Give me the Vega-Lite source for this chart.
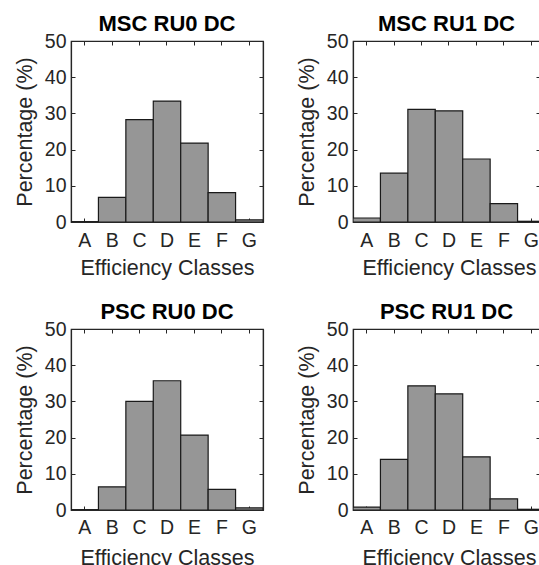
{
  "$schema": "https://vega.github.io/schema/vega-lite/v6.json",
  "padding": {"left": 13, "top": 12, "right": 0, "bottom": 0},
  "background": "white",
  "data": {"values": [
    {"panel": "MSC RU0 DC", "cls": "A", "pct": 0.1},
    {"panel": "MSC RU0 DC", "cls": "B", "pct": 6.8},
    {"panel": "MSC RU0 DC", "cls": "C", "pct": 28.3},
    {"panel": "MSC RU0 DC", "cls": "D", "pct": 33.4},
    {"panel": "MSC RU0 DC", "cls": "E", "pct": 21.8},
    {"panel": "MSC RU0 DC", "cls": "F", "pct": 8.1},
    {"panel": "MSC RU0 DC", "cls": "G", "pct": 0.6},
    {"panel": "MSC RU1 DC", "cls": "A", "pct": 1.1},
    {"panel": "MSC RU1 DC", "cls": "B", "pct": 13.5},
    {"panel": "MSC RU1 DC", "cls": "C", "pct": 31.1},
    {"panel": "MSC RU1 DC", "cls": "D", "pct": 30.7},
    {"panel": "MSC RU1 DC", "cls": "E", "pct": 17.4},
    {"panel": "MSC RU1 DC", "cls": "F", "pct": 5.1},
    {"panel": "MSC RU1 DC", "cls": "G", "pct": 0.2},
    {"panel": "PSC RU0 DC", "cls": "A", "pct": 0.1},
    {"panel": "PSC RU0 DC", "cls": "B", "pct": 6.4},
    {"panel": "PSC RU0 DC", "cls": "C", "pct": 30.0},
    {"panel": "PSC RU0 DC", "cls": "D", "pct": 35.7},
    {"panel": "PSC RU0 DC", "cls": "E", "pct": 20.7},
    {"panel": "PSC RU0 DC", "cls": "F", "pct": 5.7},
    {"panel": "PSC RU0 DC", "cls": "G", "pct": 0.6},
    {"panel": "PSC RU1 DC", "cls": "A", "pct": 0.8},
    {"panel": "PSC RU1 DC", "cls": "B", "pct": 14.0},
    {"panel": "PSC RU1 DC", "cls": "C", "pct": 34.3},
    {"panel": "PSC RU1 DC", "cls": "D", "pct": 32.1},
    {"panel": "PSC RU1 DC", "cls": "E", "pct": 14.7},
    {"panel": "PSC RU1 DC", "cls": "F", "pct": 3.1},
    {"panel": "PSC RU1 DC", "cls": "G", "pct": 0.2}
  ]},
  "columns": 2,
  "bounds": "flush",
  "spacing": {"row": 107, "column": 90},
  "concat": [
    {
      "title": "MSC RU0 DC",
      "width": 192, "height": 181,
      "transform": [{"filter": "datum.panel === 'MSC RU0 DC'"}],
      "layer": [
        {"mark": {"type": "bar", "fill": "#969696", "stroke": "#1a1a1a", "strokeWidth": 1.2, "clip": true},
         "encoding": {
           "x": {"field": "cls", "type": "nominal", "sort": ["A","B","C","D","E","F","G"], "scale": {"paddingInner": 0, "paddingOuter": 0, "range": [0, 192]}, "axis": {"orient": "bottom", "title": "Efficiency Classes", "labelPadding": 13, "titlePadding": 8}},
           "y": {"field": "pct", "type": "quantitative", "scale": {"domain": [0, 50], "nice": false}, "axis": {"orient": "left", "title": "Percentage (%)", "values": [0,10,20,30,40,50], "labelPadding": 9, "titlePadding": 8}}
         }},
        {"mark": {"type": "bar", "opacity": 0},
         "encoding": {
           "x": {"field": "cls", "type": "nominal", "sort": ["A","B","C","D","E","F","G"], "axis": {"orient": "top", "title": null, "labels": false}},
           "y": {"field": "pct", "type": "quantitative", "axis": {"orient": "right", "title": null, "labels": false, "values": [0,10,20,30,40,50]}}
         }}
      ],
      "resolve": {"axis": {"x": "independent", "y": "independent"}}
    },
    {
      "title": "MSC RU1 DC",
      "width": 187, "height": 181,
      "transform": [{"filter": "datum.panel === 'MSC RU1 DC'"}],
      "layer": [
        {"mark": {"type": "bar", "fill": "#969696", "stroke": "#1a1a1a", "strokeWidth": 1.2, "clip": true},
         "encoding": {
           "x": {"field": "cls", "type": "nominal", "sort": ["A","B","C","D","E","F","G"], "scale": {"paddingInner": 0, "paddingOuter": 0, "range": [0, 192]}, "axis": {"orient": "bottom", "title": "Efficiency Classes", "labelPadding": 13, "titlePadding": 8}},
           "y": {"field": "pct", "type": "quantitative", "scale": {"domain": [0, 50], "nice": false}, "axis": {"orient": "left", "title": "Percentage (%)", "values": [0,10,20,30,40,50], "labelPadding": 9, "titlePadding": 8}}
         }},
        {"mark": {"type": "bar", "opacity": 0, "clip": true},
         "encoding": {
           "x": {"field": "cls", "type": "nominal", "sort": ["A","B","C","D","E","F","G"], "axis": {"orient": "top", "title": null, "labels": false}},
           "y": {"field": "pct", "type": "quantitative", "axis": {"orient": "right", "title": null, "labels": false, "values": [0,10,20,30,40,50]}}
         }}
      ],
      "resolve": {"axis": {"x": "independent", "y": "independent"}}
    },
    {
      "title": "PSC RU0 DC",
      "width": 192, "height": 181,
      "transform": [{"filter": "datum.panel === 'PSC RU0 DC'"}],
      "layer": [
        {"mark": {"type": "bar", "fill": "#969696", "stroke": "#1a1a1a", "strokeWidth": 1.2, "clip": true},
         "encoding": {
           "x": {"field": "cls", "type": "nominal", "sort": ["A","B","C","D","E","F","G"], "scale": {"paddingInner": 0, "paddingOuter": 0, "range": [0, 192]}, "axis": {"orient": "bottom", "title": "Efficiency Classes", "labelPadding": 12, "titlePadding": 11}},
           "y": {"field": "pct", "type": "quantitative", "scale": {"domain": [0, 50], "nice": false}, "axis": {"orient": "left", "title": "Percentage (%)", "values": [0,10,20,30,40,50], "labelPadding": 9, "titlePadding": 8}}
         }},
        {"mark": {"type": "bar", "opacity": 0},
         "encoding": {
           "x": {"field": "cls", "type": "nominal", "sort": ["A","B","C","D","E","F","G"], "axis": {"orient": "top", "title": null, "labels": false}},
           "y": {"field": "pct", "type": "quantitative", "axis": {"orient": "right", "title": null, "labels": false, "values": [0,10,20,30,40,50]}}
         }}
      ],
      "resolve": {"axis": {"x": "independent", "y": "independent"}}
    },
    {
      "title": "PSC RU1 DC",
      "width": 187, "height": 181,
      "transform": [{"filter": "datum.panel === 'PSC RU1 DC'"}],
      "layer": [
        {"mark": {"type": "bar", "fill": "#969696", "stroke": "#1a1a1a", "strokeWidth": 1.2, "clip": true},
         "encoding": {
           "x": {"field": "cls", "type": "nominal", "sort": ["A","B","C","D","E","F","G"], "scale": {"paddingInner": 0, "paddingOuter": 0, "range": [0, 192]}, "axis": {"orient": "bottom", "title": "Efficiency Classes", "labelPadding": 12, "titlePadding": 11}},
           "y": {"field": "pct", "type": "quantitative", "scale": {"domain": [0, 50], "nice": false}, "axis": {"orient": "left", "title": "Percentage (%)", "values": [0,10,20,30,40,50], "labelPadding": 9, "titlePadding": 8}}
         }},
        {"mark": {"type": "bar", "opacity": 0, "clip": true},
         "encoding": {
           "x": {"field": "cls", "type": "nominal", "sort": ["A","B","C","D","E","F","G"], "axis": {"orient": "top", "title": null, "labels": false}},
           "y": {"field": "pct", "type": "quantitative", "axis": {"orient": "right", "title": null, "labels": false, "values": [0,10,20,30,40,50]}}
         }}
      ],
      "resolve": {"axis": {"x": "independent", "y": "independent"}}
    }
  ],
  "config": {
    "font": "Liberation Sans",
    "view": {"stroke": "#262626", "strokeWidth": 1.2},
    "title": {"fontSize": 22, "fontWeight": "bold", "color": "#000000", "font": "Liberation Sans", "offset": -5},
    "axis": {
      "grid": false,
      "domainColor": "#262626",
      "domainWidth": 1.2,
      "tickColor": "#262626",
      "tickSize": -4,
      "labelFont": "Liberation Sans",
      "labelFontSize": 19.5,
      "labelColor": "#262626",
      "labelAngle": 0,
      "titleFont": "Liberation Sans",
      "titleFontSize": 21.5,
      "titleFontWeight": "normal",
      "titleColor": "#262626",
      "labelPadding": 6,
      "titlePadding": 6
    }
  }
}
